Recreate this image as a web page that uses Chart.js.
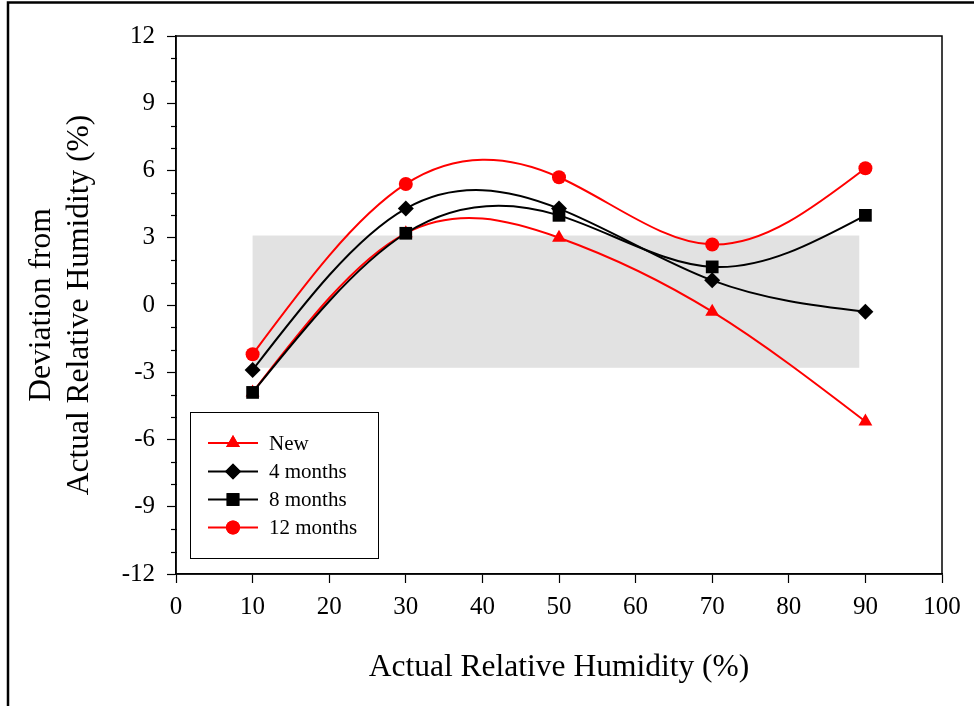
<!DOCTYPE html>
<html>
<head>
<meta charset="utf-8">
<script src="https://cdn.jsdelivr.net/npm/chart.js@4.4.1/dist/chart.umd.min.js"></script>
<style>
  html, body { margin: 0; padding: 0; background: #fff; }
  #wrap { width: 974px; height: 706px; position: relative; }
</style>
</head>
<body>
<div id="wrap"><canvas id="c" width="974" height="706"></canvas></div>
<script>
// ---- data ----
const humidity = [10, 30, 50, 70, 90];
const newVals = [-3.9, 3.2, 3.0, -0.3, -5.2];
const m4Vals = [-2.9, 4.3, 4.3, 1.1, -0.3];
const m8Vals = [-3.9, 3.2, 4.0, 1.7, 4.0];
const m12Vals = [-2.2, 5.4, 5.7, 2.7, 6.1];
const seriesLabels = ['New', '4 months', '8 months', '12 months'];
const xRange = [0, 100];
const xStep = 10;
const yRange = [-12, 12];
const yStep = 3;
const yMinorTicks = [-11, -10, -8, -7, -5, -4, -2, -1, 1, 2, 4, 5, 7, 8, 10, 11];
const bandX = [10, 89.2];
const bandY = [-2.8, 3.1];
const xTitle = 'Actual Relative Humidity (%)';
const yTitle = ['Deviation from', 'Actual Relative Humidity (%)'];

const FONT = "'Liberation Serif', 'Times New Roman', serif";
const toPts = vals => humidity.map((h, i) => ({x: h, y: vals[i]}));

const datasets = [
  {label: seriesLabels[0], data: toPts(newVals), borderColor: '#ff0000', backgroundColor: '#ff0000',
   pointStyle: 'triangle', pointRadius: 8, order: 4},
  {label: seriesLabels[1], data: toPts(m4Vals), borderColor: '#000000', backgroundColor: '#000000',
   pointStyle: 'rectRot', pointRadius: 8, order: 2},
  {label: seriesLabels[2], data: toPts(m8Vals), borderColor: '#000000', backgroundColor: '#000000',
   pointStyle: 'rect', pointRadius: 9, order: 1},
  {label: seriesLabels[3], data: toPts(m12Vals), borderColor: '#ff0000', backgroundColor: '#ff0000',
   pointStyle: 'circle', pointRadius: 7, order: 3}
].map(d => Object.assign({borderWidth: 2, pointBorderWidth: 0, pointHoverRadius: d.pointRadius, fill: false, tension: 0.4}, d));

// natural cubic spline second derivatives (value space)
function naturalM(xs, ys) {
  const n = xs.length, M = new Array(n).fill(0);
  const a = [], b = [], c = [], d = [];
  for (let i = 1; i < n - 1; i++) {
    const h0 = xs[i] - xs[i - 1], h1 = xs[i + 1] - xs[i];
    a.push(h0 / 6); b.push((h0 + h1) / 3); c.push(h1 / 6);
    d.push((ys[i + 1] - ys[i]) / h1 - (ys[i] - ys[i - 1]) / h0);
  }
  const m = b.length;
  if (!m) return M;
  for (let i = 1; i < m; i++) { const w = a[i] / b[i - 1]; b[i] -= w * c[i - 1]; d[i] -= w * d[i - 1]; }
  const s = new Array(m);
  s[m - 1] = d[m - 1] / b[m - 1];
  for (let i = m - 2; i >= 0; i--) s[i] = (d[i] - c[i] * s[i + 1]) / b[i];
  for (let i = 0; i < m; i++) M[i + 1] = s[i];
  return M;
}

const splinePlugin = {
  id: 'spline',
  beforeDatasetsDraw(chart) {
    const {x: xs, y: ys} = chart.scales;
    chart.data.datasets.forEach((ds, di) => {
      const meta = chart.getDatasetMeta(di);
      const pts = meta.data;
      const X = ds.data.map(p => p.x), Y = ds.data.map(p => p.y);
      const M = naturalM(X, Y);
      for (let i = 0; i < X.length - 1; i++) {
        const h = X[i + 1] - X[i];
        const sl = (Y[i + 1] - Y[i]) / h;
        const s0 = sl - h * (2 * M[i] + M[i + 1]) / 6;
        const s1 = sl + h * (M[i] + 2 * M[i + 1]) / 6;
        pts[i].cp2x = xs.getPixelForValue(X[i] + h / 3);
        pts[i].cp2y = ys.getPixelForValue(Y[i] + s0 * h / 3);
        pts[i + 1].cp1x = xs.getPixelForValue(X[i + 1] - h / 3);
        pts[i + 1].cp1y = ys.getPixelForValue(Y[i + 1] - s1 * h / 3);
      }
      if (meta.dataset) { meta.dataset._pointsUpdated = true; meta.dataset._path = undefined; }
    });
  }
};

const decor = {
  id: 'decor',
  beforeDatasetsDraw(chart) {
    const {ctx, scales: {x, y}} = chart;
    ctx.save();
    ctx.fillStyle = '#e2e2e2';
    const x0 = x.getPixelForValue(bandX[0]), x1 = x.getPixelForValue(bandX[1]);
    const y0 = y.getPixelForValue(bandY[1]), y1 = y.getPixelForValue(bandY[0]);
    ctx.fillRect(x0, y0, x1 - x0, y1 - y0);
    ctx.restore();
  },
  afterDraw(chart) {
    const {ctx, chartArea: a, scales: {y}} = chart;
    ctx.save();
    ctx.strokeStyle = '#000';
    ctx.lineWidth = 1.5;
    ctx.strokeRect(a.left, a.top, a.right - a.left, a.bottom - a.top);
    ctx.lineWidth = 1.2;
    yMinorTicks.forEach(v => {
      const py = Math.round(y.getPixelForValue(v)) + 0.5;
      ctx.beginPath();
      ctx.moveTo(a.left - 5, py);
      ctx.lineTo(a.left + 1, py);
      ctx.stroke();
    });
    ctx.lineWidth = 2.5;
    ctx.beginPath();
    ctx.moveTo(8, 706);
    ctx.lineTo(8, 2.5);
    ctx.lineTo(974, 2.5);
    ctx.stroke();
    // legend
    ctx.lineWidth = 1;
    ctx.fillStyle = '#fff';
    ctx.fillRect(190, 412, 188, 146);
    ctx.strokeRect(190.5, 412.5, 188, 146);
    const rowY = [443, 471.5, 499.5, 527.5];
    ctx.font = '21px ' + FONT;
    ctx.textBaseline = 'middle';
    ctx.textAlign = 'left';
    chart.data.datasets.forEach((ds, i) => {
      const yy = rowY[i];
      ctx.strokeStyle = ds.borderColor;
      ctx.lineWidth = 2;
      ctx.beginPath();
      ctx.moveTo(208, yy);
      ctx.lineTo(258, yy);
      ctx.stroke();
      ctx.fillStyle = ds.backgroundColor;
      Chart.helpers.drawPoint(ctx, {pointStyle: ds.pointStyle, radius: ds.pointRadius, rotation: 0, borderWidth: 0}, 233, yy);
      ctx.fill();
      ctx.fillStyle = '#000';
      ctx.fillText(ds.label, 269, yy + 1);
    });
    ctx.restore();
  }
};

new Chart(document.getElementById('c'), {
  type: 'line',
  data: {datasets},
  options: {
    responsive: false,
    animation: false,
    events: [],
    layout: {padding: {left: 0, top: 36, right: 32, bottom: 0}},
    plugins: {legend: {display: false}, tooltip: {enabled: false}},
    scales: {
      x: {
        type: 'linear', min: xRange[0], max: xRange[1],
        afterFit: s => { s.height = 132; },
        ticks: {stepSize: xStep, color: '#000', font: {family: FONT, size: 25}, padding: 9, maxRotation: 0},
        grid: {drawOnChartArea: false, tickLength: 9, color: '#000', tickColor: '#000', tickWidth: 1.2},
        border: {display: true, color: '#000', width: 1.5},
        title: {display: true, text: xTitle, color: '#000', font: {family: FONT, size: 31.5, lineHeight: 1.2}, padding: {top: 0, bottom: 19}}
      },
      y: {
        type: 'linear', min: yRange[0], max: yRange[1],
        afterFit: s => { s.width = 176; },
        ticks: {stepSize: yStep, color: '#000', font: {family: FONT, size: 25}, padding: 12},
        grid: {drawOnChartArea: false, tickLength: 9, color: '#000', tickColor: '#000', tickWidth: 1.2},
        border: {display: true, color: '#000', width: 1.5},
        title: {display: true, text: yTitle, color: '#000', font: {family: FONT, size: 31.5, lineHeight: 1.2}, padding: {top: 23, bottom: 0}}
      }
    }
  },
  plugins: [splinePlugin, decor]
});
</script>
</body>
</html>
